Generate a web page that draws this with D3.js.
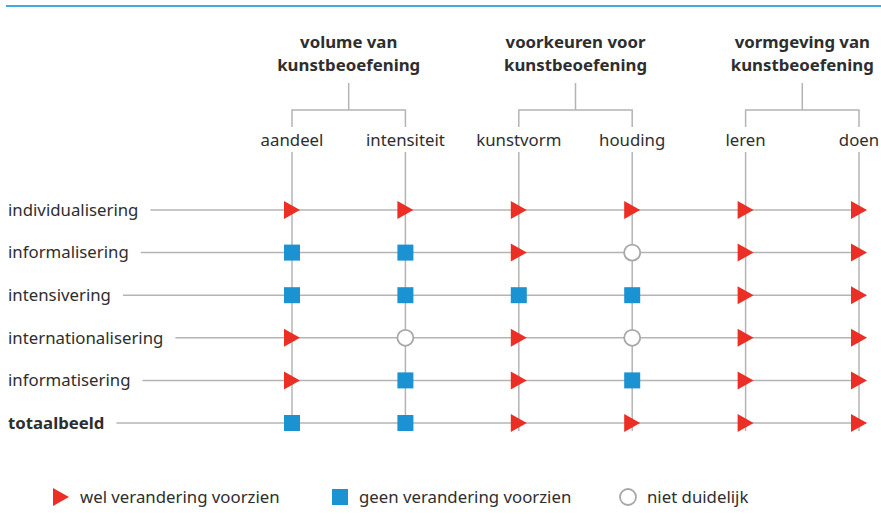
<!DOCTYPE html>
<html>
<head>
<meta charset="utf-8">
<script src="https://cdn.jsdelivr.net/npm/d3@7"></script>
<style>
    body { margin: 0; background: #fff; }
    text { font-family: "Noto Sans", sans-serif; fill: #2e2e2e; }
</style>
</head>
<body>
<div id="graph-container"></div>
<script>
const WIDTH = 881,
    HEIGHT = 528;

const FS = 16.8;

// data
const rows = ["individualisering", "informalisering", "intensivering",
    "internationalisering", "informatisering", "totaalbeeld"];
const columns = ["aandeel", "intensiteit", "kunstvorm", "houding", "leren", "doen"];
const groups = [
    ["volume van", "kunstbeoefening"],
    ["voorkeuren voor", "kunstbeoefening"],
    ["vormgeving van", "kunstbeoefening"]
];
// w = wel verandering, g = geen verandering, o = niet duidelijk
const statusIndividualisering = ["w", "w", "w", "w", "w", "w"];
const statusInformalisering = ["g", "g", "w", "o", "w", "w"];
const statusIntensivering = ["g", "g", "g", "g", "w", "w"];
const statusInternationalisering = ["w", "o", "w", "o", "w", "w"];
const statusInformatisering = ["w", "g", "w", "g", "w", "w"];
const statusTotaalbeeld = ["g", "g", "w", "w", "w", "w"];
const legendKeys = ["w", "g", "o"];
const legendLabels = ["wel verandering voorzien", "geen verandering voorzien", "niet duidelijk"];

const statusRows = [statusIndividualisering, statusInformalisering, statusIntensivering,
    statusInternationalisering, statusInformatisering, statusTotaalbeeld];

const cells = [];
rows.forEach((r, i) => columns.forEach((c, j) => cells.push({ row: r, col: c, status: statusRows[i][j] })));

const RED = "#ec2f24", BLUE = "#1b92d1", GREY = "#b4b4b4";

const svg = d3.select("#graph-container")
    .append("svg")
    .attr("width", WIDTH)
    .attr("height", HEIGHT);

const x = d3.scalePoint().domain(columns).range([292, 859]);
const y = d3.scalePoint().domain(rows).range([210, 423]);
const legendX = d3.scaleOrdinal().domain(legendKeys).range([61, 340, 628]);

// blue rule on top
svg.append("line")
    .attr("x1", 6).attr("x2", WIDTH)
    .attr("y1", 6).attr("y2", 6)
    .attr("stroke", "#45a9e0")
    .attr("stroke-width", 2);

// group titles + brackets
const grp = svg.selectAll(".group")
    .data(groups)
    .join("g")
    .attr("class", "group");

grp.each(function (d, i) {
    const g = d3.select(this);
    const left = x(columns[i * 2]), right = x(columns[i * 2 + 1]);
    const mid = (left + right) / 2;
    g.selectAll("text")
        .data(d)
        .join("text")
        .attr("x", mid)
        .attr("y", (t, k) => 48 + k * 23)
        .attr("text-anchor", "middle")
        .attr("font-size", FS)
        .attr("font-weight", "bold")
        .text(t => t);
    g.append("path")
        .attr("d", `M${mid},83V110M${left},127V110H${right}V127`)
        .attr("fill", "none")
        .attr("stroke", GREY)
        .attr("stroke-width", 1.5);
});

// column labels + vertical lines
svg.selectAll(".col-label")
    .data(columns)
    .join("text")
    .attr("class", "col-label")
    .attr("x", d => x(d))
    .attr("y", 146)
    .attr("text-anchor", "middle")
    .attr("font-size", FS)
    .text(d => d);

svg.selectAll(".col-line")
    .data(columns)
    .join("line")
    .attr("class", "col-line")
    .attr("x1", d => x(d)).attr("x2", d => x(d))
    .attr("y1", 152).attr("y2", 431)
    .attr("stroke", GREY)
    .attr("stroke-width", 1.5);

// row labels + horizontal lines
const rowLabels = svg.selectAll(".row-label")
    .data(rows)
    .join("text")
    .attr("class", "row-label")
    .attr("x", 8)
    .attr("y", d => y(d))
    .attr("dy", "0.35em")
    .attr("font-size", FS)
    .attr("font-weight", d => d === "totaalbeeld" ? "bold" : "normal")
    .text(d => d);

rowLabels.each(function (d) {
    const end = 8 + this.getComputedTextLength();
    svg.insert("line", ".col-line")
        .attr("x1", end + 12).attr("x2", x(columns[columns.length - 1]) + 7)
        .attr("y1", y(d)).attr("y2", y(d))
        .attr("stroke", GREY)
        .attr("stroke-width", 1.5);
});

// markers
function drawMarker(sel, status) {
    if (status === "w") {
        sel.append("path")
            .attr("d", "M-8,-9L8,0L-8,9Z")
            .attr("fill", RED);
    } else if (status === "g") {
        sel.append("rect")
            .attr("x", -8).attr("y", -8)
            .attr("width", 16).attr("height", 16)
            .attr("fill", BLUE);
    } else {
        sel.append("circle")
            .attr("r", 8)
            .attr("fill", "#fff")
            .attr("stroke", "#a8a8a8")
            .attr("stroke-width", 1.8);
    }
}

svg.selectAll(".cell")
    .data(cells)
    .join("g")
    .attr("class", "cell")
    .attr("transform", d => `translate(${x(d.col)},${y(d.row)})`)
    .each(function (d) { drawMarker(d3.select(this), d.status); });

// legend
const legend = svg.selectAll(".legend")
    .data(legendKeys)
    .join("g")
    .attr("class", "legend")
    .attr("transform", d => `translate(${legendX(d)},497)`);

legend.each(function (d) { drawMarker(d3.select(this), d); });

legend.append("text")
    .attr("x", 19)
    .attr("dy", "0.35em")
    .attr("font-size", FS)
    .text((d, i) => legendLabels[i]);
</script>
</body>
</html>
